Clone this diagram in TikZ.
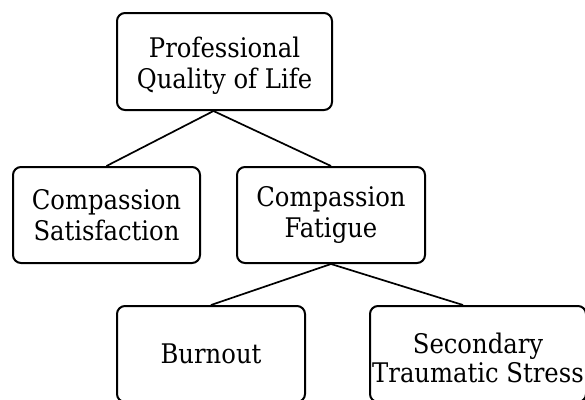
\documentclass[tikz,border=0pt]{standalone}
\usepackage{fontspec}
\setmainfont{DejaVu Serif Condensed}
\usetikzlibrary{positioning}
\newcommand{\qolfont}{\fontsize{27pt}{31pt}\selectfont}
\tikzstyle{box}=[draw, line width=2pt, rounded corners=8pt, align=center, font=\qolfont, inner sep=0pt]
\tikzstyle{link}=[draw, line width=1.7pt]

\begin{document}
\begin{tikzpicture}[x=1pt, y=-1pt]

  \useasboundingbox (0,0) rectangle (585,399);
  \clip (0,0) rectangle (585,399);

  % top level
  \node[box, minimum width=215pt, minimum height=97pt] (proqol) at (224.5,61.5) {\rule{0pt}{28.5pt}Professional\\Quality of Life};

  % second level
  \node[box, minimum width=187pt, minimum height=96pt] (cs) at (106.5,215) {Compassion\\Satisfaction};
  \node[box, minimum width=188pt, minimum height=96pt] (cf) at (331,215) {Compassion\\Fatigue};

  % third level
  \node[box, minimum width=188pt, minimum height=96pt] (bo) at (211,354) {Burnout};
  \node[box, minimum width=216pt, minimum height=96pt, font=\fontsize{27pt}{29pt}\selectfont] (sts) at (478,354) {\rule{0pt}{27.5pt}Secondary\\Traumatic Stress};

  \foreach \source/\dest in {proqol/cs, proqol/cf}
         \path[link] ([xshift=-11pt]\source.south) -- (\dest.north);

  \path[link] (cf.south) -- (bo.north);
  \path[link] (cf.south) -- ([xshift=-15pt]sts.north);

\end{tikzpicture}
\end{document}
